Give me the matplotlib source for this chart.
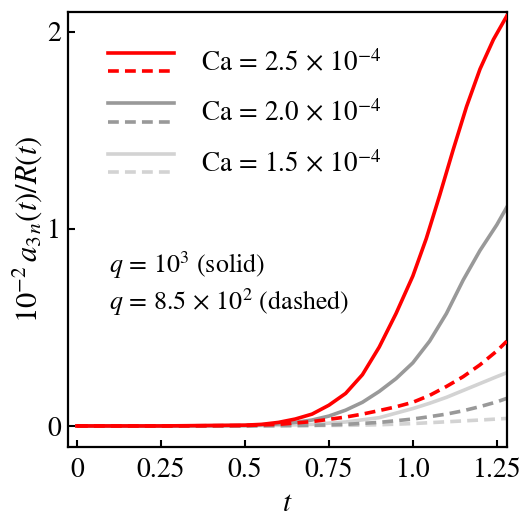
import matplotlib
matplotlib.use("Agg")
import matplotlib.pyplot as plt
from matplotlib.legend_handler import HandlerBase
from matplotlib.lines import Line2D

# values
t_red_solid = [0.0, 0.25, 0.5, 0.55, 0.6, 0.65, 0.7, 0.75, 0.8, 0.85, 0.9, 0.95, 1.0, 1.04, 1.08, 1.12, 1.16, 1.2, 1.24, 1.28]
y_red_solid = [0.0, 0.0, 0.004, 0.008, 0.018, 0.035, 0.06, 0.105, 0.165, 0.26, 0.40, 0.57, 0.76, 0.95, 1.17, 1.40, 1.62, 1.81, 1.96, 2.08]

t_gray_solid = [0.0, 0.25, 0.5, 0.6, 0.65, 0.7, 0.75, 0.8, 0.85, 0.9, 0.95, 1.0, 1.05, 1.1, 1.15, 1.2, 1.25, 1.28]
y_gray_solid = [0.0, 0.0, 0.002, 0.01, 0.018, 0.03, 0.05, 0.08, 0.12, 0.175, 0.24, 0.32, 0.43, 0.57, 0.74, 0.89, 1.02, 1.11]

t_light_solid = [0.0, 0.25, 0.5, 0.6, 0.7, 0.8, 0.9, 1.0, 1.05, 1.1, 1.15, 1.2, 1.25, 1.28]
y_light_solid = [0.0, 0.0, 0.001, 0.003, 0.008, 0.02, 0.042, 0.088, 0.115, 0.145, 0.18, 0.215, 0.25, 0.27]

t_red_dashed = [0.0, 0.25, 0.5, 0.6, 0.7, 0.8, 0.85, 0.9, 0.95, 1.0, 1.05, 1.1, 1.15, 1.2, 1.25, 1.28]
y_red_dashed = [0.0, 0.0, 0.002, 0.008, 0.022, 0.045, 0.06, 0.078, 0.097, 0.12, 0.155, 0.20, 0.25, 0.31, 0.38, 0.43]

t_gray_dashed = [0.0, 0.25, 0.5, 0.7, 0.8, 0.9, 1.0, 1.05, 1.1, 1.15, 1.2, 1.25, 1.28]
y_gray_dashed = [0.0, 0.0, 0.0, 0.003, 0.008, 0.018, 0.035, 0.047, 0.06, 0.077, 0.098, 0.122, 0.14]

t_light_dashed = [0.0, 0.25, 0.5, 0.8, 0.9, 1.0, 1.1, 1.2, 1.28]
y_light_dashed = [0.0, 0.0, 0.0, 0.003, 0.006, 0.012, 0.021, 0.03, 0.038]

ca_labels = [r"$\mathrm{Ca}\,=\,2.5\,\times\,10^{-4}$",
             r"$\mathrm{Ca}\,=\,2.0\,\times\,10^{-4}$",
             r"$\mathrm{Ca}\,=\,1.5\,\times\,10^{-4}$"]
colors = ["#ff0000", "#999999", "#d3d3d3"]

x_ticks = [0, 0.25, 0.5, 0.75, 1.0, 1.25]
x_ticklabels = ["0", "0.25", "0.5", "0.75", "1.0", "1.25"]
y_ticks = [0, 1, 2]

plt.rcParams["font.family"] = "STIXGeneral"
plt.rcParams["mathtext.fontset"] = "stix"

LW = 2.6
DASH = (3.0, 1.7)


class StackedHandler(HandlerBase):
    """Draw the (solid, dashed) pair one above the other."""

    def create_artists(self, legend, orig_handle, xdescent, ydescent,
                       width, height, fontsize, trans):
        solid, dashed = orig_handle
        yc = height / 2.0 - ydescent
        off = 0.34 * fontsize
        out = []
        for h, yy in ((solid, yc + off), (dashed, yc - off)):
            ln = Line2D([-xdescent, width - xdescent], [yy, yy])
            ln.update_from(h)
            ln.set_transform(trans)
            out.append(ln)
        return out


fig = plt.figure(figsize=(5.22, 5.18), dpi=100)
ax = fig.add_axes([0.130, 0.137, 0.841, 0.840])

solid_sets = [(t_red_solid, y_red_solid), (t_gray_solid, y_gray_solid), (t_light_solid, y_light_solid)]
dashed_sets = [(t_red_dashed, y_red_dashed), (t_gray_dashed, y_gray_dashed), (t_light_dashed, y_light_dashed)]

handles = []
# light curves first so red sits on top
for i in [2, 1, 0]:
    ts, ys = solid_sets[i]
    td, yd = dashed_sets[i]
    l2, = ax.plot(td, yd, color=colors[i], lw=LW, dashes=DASH, zorder=3 - i)
    l1, = ax.plot(ts, ys, color=colors[i], lw=LW, zorder=3 - i)
    handles.insert(0, (l1, l2))

ax.legend(handles, ca_labels, handler_map={tuple: StackedHandler()},
          loc="upper left", bbox_to_anchor=(0.035, 0.975), frameon=False,
          fontsize=19.5, handlelength=2.45, handleheight=1.3,
          handletextpad=1.0, labelspacing=0.76)

ax.text(0.093, 0.40, r"$q\,=\,10^3$ (solid)", transform=ax.transAxes, fontsize=18.6)
ax.text(0.093, 0.315, r"$q\,=\,8.5\,\times\,10^2$ (dashed)", transform=ax.transAxes, fontsize=18.6)

ax.set_xlim(-0.027, 1.28)
ax.set_ylim(-0.107, 2.1)
ax.set_xticks(x_ticks)
ax.set_xticklabels(x_ticklabels)
ax.set_yticks(y_ticks)
ax.tick_params(direction="in", length=5, width=1.5, labelsize=20)
ax.tick_params(axis="x", pad=8)
ax.tick_params(axis="y", pad=5)
for s in ax.spines.values():
    s.set_linewidth(1.6)

ax.set_xlabel(r"$t$", fontsize=21, labelpad=6)
ax.set_ylabel(r"$10^{-2}\,a_{3\,n}(t)/R(t)$", fontsize=22, labelpad=2)

fig.savefig("out.png", dpi=100)
